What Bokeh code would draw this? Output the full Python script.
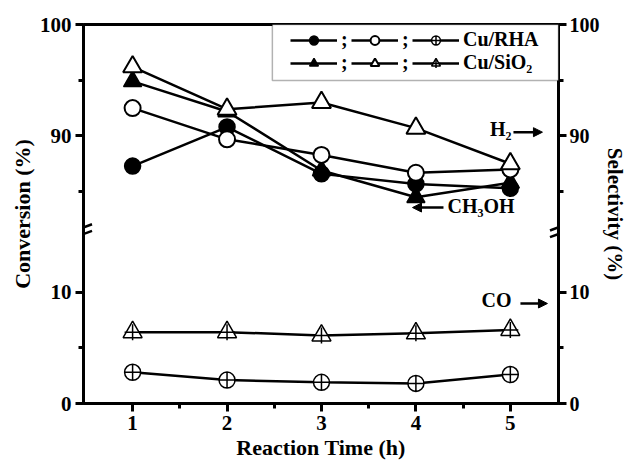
from bokeh.plotting import figure
from bokeh.models import (LinearAxis, FixedTicker, CustomJSTickFormatter, Range1d, Legend,
                          LegendItem, Arrow, NormalHead, Label, BoxAnnotation)
from bokeh.embed import file_html
from bokeh.resources import INLINE

# ---------------- data ----------------
time_h = [1, 2, 3, 4, 5]
rha_conversion = [87.3, 90.8, 86.6, 85.7, 85.3]      # CH3OH conversion, Cu/RHA (filled circle)
sio2_conversion = [94.9, 92.2, 86.9, 84.5, 85.8]     # CH3OH conversion, Cu/SiO2 (filled triangle)
rha_h2_sel = [92.5, 89.7, 88.3, 86.7, 87.0]          # H2 selectivity, Cu/RHA (open circle)
sio2_h2_sel = [96.2, 92.4, 93.0, 90.7, 87.5]         # H2 selectivity, Cu/SiO2 (open triangle)
rha_co_sel = [2.8, 2.1, 1.9, 1.8, 2.6]               # CO selectivity, Cu/RHA
sio2_co_sel = [6.4, 6.4, 6.1, 6.3, 6.6]              # CO selectivity, Cu/SiO2

x_ticks = [1, 2, 3, 4, 5]
x_minor_ticks = [1.5, 2.5, 3.5, 4.5]
y_major_values = [0, 10, 90, 100]
y_minor_values = [5, 85, 95]

# broken axis: values above the break are shifted down by GAP
GAP = 66
BREAK = 15.5


def to_axis(v):
    return v - GAP if v > 50 else v


def conv(vals):
    return [to_axis(v) for v in vals]


FONT = "Liberation Serif"

p = figure(frame_width=475, frame_height=379,
           min_border_left=83, min_border_right=67, min_border_top=24, min_border_bottom=59,
           x_range=Range1d(0.48, 5.51), y_range=Range1d(0, to_axis(100)),
           output_backend="svg", toolbar_location=None)
p.xgrid.visible = False
p.ygrid.visible = False
p.outline_line_color = "black"
p.outline_line_width = 3
p.background_fill_color = "white"
p.border_fill_color = "white"

yticker = FixedTicker(ticks=[to_axis(v) for v in y_major_values],
                      minor_ticks=[to_axis(v) for v in y_minor_values])
yfmt = CustomJSTickFormatter(code="return String(tick > 15 ? tick + %d : tick)" % GAP)

right_axis = LinearAxis()
p.add_layout(right_axis, "right")

p.xaxis.ticker = FixedTicker(ticks=x_ticks, minor_ticks=x_minor_ticks)
p.xaxis.axis_label = "Reaction Time (h)"
p.yaxis[0].axis_label = "Conversion (%)"
right_axis.axis_label = "Selectivity (%)"

for ax in [p.yaxis[0], right_axis]:
    ax.ticker = yticker
    ax.formatter = yfmt

for ax in [p.xaxis[0], p.yaxis[0], right_axis]:
    ax.axis_line_width = 3
    ax.major_tick_line_width = 3
    ax.minor_tick_line_width = 3
    ax.major_tick_in = 0
    ax.major_tick_out = 8
    ax.minor_tick_in = 0
    ax.minor_tick_out = 5
    ax.major_label_text_font = FONT
    ax.major_label_text_font_style = "bold"
    ax.major_label_text_font_size = "21px"
    ax.major_label_text_color = "black"
    ax.axis_label_text_font = FONT
    ax.axis_label_text_font_style = "bold"
    ax.axis_label_text_font_size = "22px"
    ax.axis_label_text_color = "black"
    ax.major_label_standoff = 4
    ax.axis_label_standoff = 2

right_axis.major_label_standoff = 3
right_axis.major_label_text_font_size = "20px"
right_axis.axis_label_standoff = 0
right_axis.axis_label_text_font_size = "21px"

# ---------------- lines ----------------
LW = 2.5
l_sc = p.line(time_h, conv(sio2_conversion), line_color="black", line_width=LW)
l_rc = p.line(time_h, conv(rha_conversion), line_color="black", line_width=LW)
l_rh = p.line(time_h, conv(rha_h2_sel), line_color="black", line_width=LW)
l_sh = p.line(time_h, conv(sio2_h2_sel), line_color="black", line_width=LW)
l_rco = p.line(time_h, conv(rha_co_sel), line_color="black", line_width=LW)
l_sco = p.line(time_h, conv(sio2_co_sel), line_color="black", line_width=LW)

# ---------------- markers ----------------
m_sc = p.scatter(time_h, conv(sio2_conversion), marker="triangle", size=18,
                 fill_color="black", line_color="black", line_width=1.5)
m_rc = p.scatter(time_h, conv(rha_conversion), marker="circle", size=16,
                 fill_color="black", line_color="black", line_width=1.5)
m_rh = p.scatter(time_h, conv(rha_h2_sel), marker="circle", size=16,
                 fill_color="white", line_color="black", line_width=2)
m_sh = p.scatter(time_h, conv(sio2_h2_sel), marker="triangle", size=19,
                 fill_color="white", line_color="black", line_width=2)
m_rco = p.scatter(time_h, conv(rha_co_sel), marker="circle_cross", size=16,
                  fill_color="white", line_color="black", line_width=1.5)
m_sco = p.scatter(time_h, conv(sio2_co_sel), marker="triangle", size=19,
                  fill_color="white", line_color="black", line_width=1.5)
m_sco2 = p.scatter(time_h, conv(sio2_co_sel), marker="cross", size=16,
                   line_color="black", line_width=1.5)

# ---------------- axis break marks ----------------
for xb in [0.48, 5.51]:
    for dy in [0.3, -0.3]:
        p.add_layout(Arrow(end=None, x_start=xb - 0.09, y_start=BREAK + dy - 0.28,
                           x_end=xb + 0.09, y_end=BREAK + dy + 0.28,
                           line_color="black", line_width=2.5))

# ---------------- arrows / annotations ----------------
def head():
    return NormalHead(size=9, fill_color="black", line_color="black", line_width=1)

p.add_layout(Arrow(end=head(), x_start=5.033, y_start=24.34, x_end=5.34, y_end=24.34,
                   line_color="black", line_width=2.5))
p.add_layout(Arrow(end=head(), x_start=4.292, y_start=17.58, x_end=3.964, y_end=17.58,
                   line_color="black", line_width=2.5))
p.add_layout(Arrow(end=head(), x_start=5.107, y_start=8.97, x_end=5.393, y_end=8.97,
                   line_color="black", line_width=2.5))

lab_kw = dict(text_font=FONT, text_font_style="bold", text_font_size="20px",
              text_color="black", text_baseline="middle")
p.add_layout(Label(x=5.012, y=24.6, text="H₂", text_align="right", **lab_kw))
p.add_layout(Label(x=4.334, y=17.7, text="CH₃OH", text_align="left", **lab_kw))
p.add_layout(Label(x=5.012, y=9.29, text="CO", text_align="right", **lab_kw))

# ---------------- legend ----------------
p.add_layout(BoxAnnotation(left=2.48, right=5.51, bottom=28.98, top=to_axis(100),
                           fill_color="white", fill_alpha=1, line_color="black",
                           line_width=1.5))

legend = Legend(items=[
    LegendItem(label=";", renderers=[l_rc, m_rc]),
    LegendItem(label=";", renderers=[l_rh, m_rh]),
    LegendItem(label="Cu/RHA", renderers=[l_rco, m_rco]),
    LegendItem(label=";", renderers=[l_sc, m_sc]),
    LegendItem(label=";", renderers=[l_sh, m_sh]),
    LegendItem(label="Cu/SiO₂", renderers=[l_sco, m_sco, m_sco2]),
], orientation="horizontal", ncols=3, location=(207, 329), padding=0, margin=0,
    border_line_alpha=0, background_fill_alpha=0,
    glyph_width=47, glyph_height=22, label_standoff=4, label_width=10, spacing=0,
    label_text_font=FONT, label_text_font_style="bold", label_text_font_size="20px",
    label_text_color="black")
p.add_layout(legend)

open("out.html", "w").write(file_html(p, INLINE))
